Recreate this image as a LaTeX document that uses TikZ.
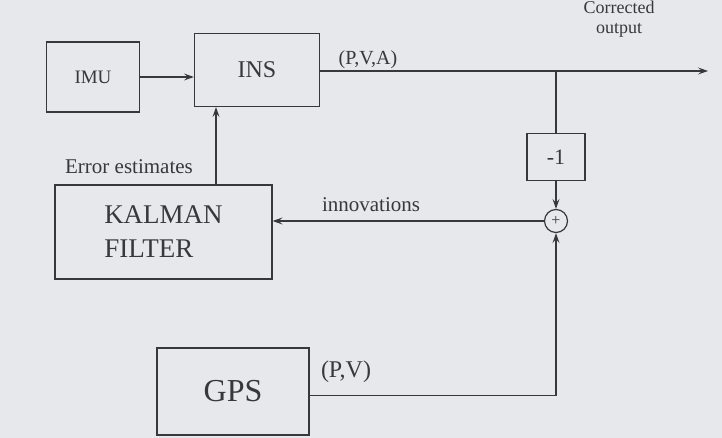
\documentclass[tikz,border=0pt]{standalone}
\usepackage{fontspec}
\setmainfont{Liberation Serif}
\usetikzlibrary{arrows.meta}
\definecolor{paper}{RGB}{231,232,236}
\definecolor{ink}{RGB}{55,55,62}
\begin{document}
\begin{tikzpicture}[x=1pt,y=-1pt,
  every node/.style={text=ink},
  blk/.style={draw=ink,line width=1.2pt,rectangle,inner sep=0pt},
  arr/.style={draw=ink,line width=1.2pt,-{Stealth[length=10pt,width=7pt,inset=4pt]}},
  ln/.style={draw=ink,line width=1.2pt},
  lbl/.style={inner sep=0pt}]
\fill[paper] (0,0) rectangle (722,438);
\useasboundingbox (0,0) rectangle (722,438);
% blocks
\node[blk,minimum width=93pt,minimum height=70pt,font=\fontsize{19}{21}\selectfont] (imu) at (93,77) {IMU};
\node[blk,minimum width=125pt,minimum height=73pt,font=\fontsize{24}{26}\selectfont] (ins) at (257,70) {INS};
\node[blk,minimum width=217pt,minimum height=94pt,font=\fontsize{27}{34}\selectfont,align=left] (kal) at (163.5,232) {KALMAN\\FILTER};
\node[blk,minimum width=152pt,minimum height=87pt,font=\fontsize{32}{34}\selectfont] (gps) at (233,391.5) {GPS};
\node[blk,minimum width=58pt,minimum height=47pt,font=\fontsize{22}{24}\selectfont] (neg) at (556,157) {-1};
\node[draw=ink,line width=1.2pt,circle,minimum size=23pt,inner sep=0pt,font=\fontsize{16}{16}\selectfont] (sum) at (556,221) {+};
% free end and junction
\coordinate (out) at (708,71);
\coordinate (jn) at (neg.north |- out);
% connectors
\draw[arr] (imu.east) -- (imu.east -| ins.west);
\draw[arr] (ins.east |- out) -- (out);
\draw[ln] (jn) -- (neg.north);
\draw[arr] (neg.south) -- (sum.north);
\draw[arr] (sum.west) -- (sum.west -| kal.east);
\draw[arr] ([xshift=-41pt]ins.south |- kal.north) -- ([xshift=-41pt]ins.south);
\draw[arr] ([yshift=-4pt]gps.east) -| (sum.south);
% labels
\node[lbl,font=\fontsize{20}{22}\selectfont] (pva) at (368,60) {(P,V,A)};
\node[lbl,font=\fontsize{18}{20}\selectfont,align=center] (corr) at (619,19) {Corrected\\output};
\node[lbl,font=\fontsize{21}{23}\selectfont] (innov) at (371,205) {innovations};
\node[lbl,font=\fontsize{21}{23}\selectfont] (err) at (129,167) {Error estimates};
\node[lbl,font=\fontsize{24}{26}\selectfont] (pv) at (346,372) {(P,V)};
\end{tikzpicture}
\end{document}
